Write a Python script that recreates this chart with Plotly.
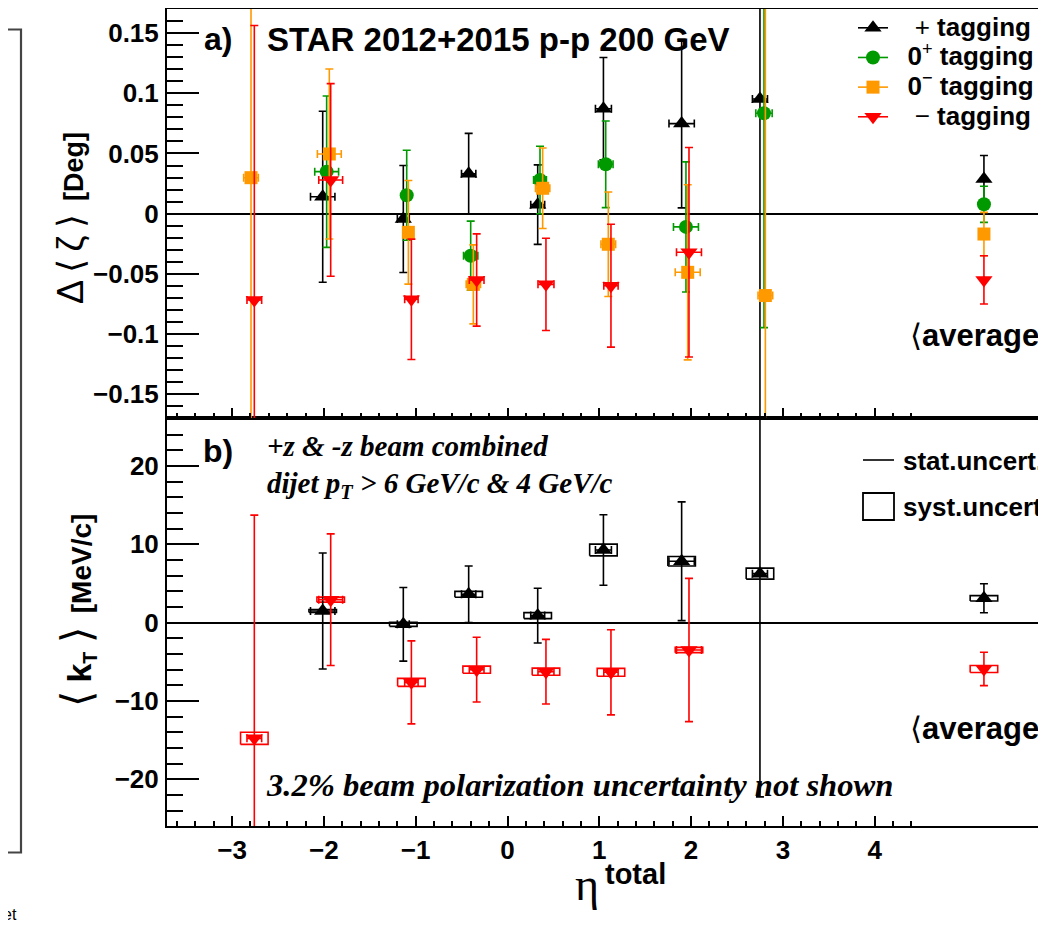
import plotly.graph_objects as go

# ---------------- data ----------------
eta_ticks = [-3, -2, -1, 0, 1, 2, 3, 4]
eta_tick_labels = ["\u22123", "\u22122", "\u22121", "0", "1", "2", "3", "4"]
zeta_ticks = [-0.15, -0.1, -0.05, 0, 0.05, 0.1, 0.15]
zeta_tick_labels = ["\u22120.15", "\u22120.1", "\u22120.05", "0", "0.05", "0.1", "0.15"]
kt_ticks = [-20, -10, 0, 10, 20]
kt_tick_labels = ["\u221220", "\u221210", "0", "10", "20"]

# + tagging (black)
plus_eta = [-2.013, -1.135, -0.423, 0.329, 1.045, 1.897, 2.750, 5.19]
plus_eta_err = [0.133, 0.065, 0.078, 0.076, 0.087, 0.138, 0.082, 0.0]
plus_zeta = [0.0141, -0.0044, 0.0332, 0.0075, 0.0872, 0.0748, 0.0953, 0.0288]
plus_zeta_err = [0.071, 0.0444, 0.0335, 0.033, 0.0425, 0.070, 0.30, 0.0195]
plus_kt = [1.49, -0.21, 3.62, 0.90, 9.28, 7.84, 6.26, 3.11]
plus_kt_stat = [7.41, 4.70, 3.62, 3.50, 4.50, 7.58, 28.5, 1.85]
plus_kt_syst = [0.20, 0.26, 0.38, 0.38, 0.75, 0.60, 0.70, 0.34]

# 0+ tagging (green)
zp_eta = [-1.970, -1.098, -0.401, 0.354, 1.070, 1.944, 2.794, 5.19]
zp_eta_err = [0.13, 0.04, 0.078, 0.07, 0.08, 0.136, 0.089, 0.0]
zp_zeta = [0.0349, 0.0153, -0.0349, 0.0280, 0.0410, -0.0110, 0.0834, 0.0078]
zp_zeta_err = [0.0629, 0.0374, 0.0287, 0.0280, 0.0360, 0.0540, 0.178, 0.015]

# 0- tagging (orange)
zm_eta = [-2.794, -1.941, -1.080, -0.372, 0.383, 1.098, 1.963, 2.809, 5.19]
zm_eta_err = [0.08, 0.13, 0.05, 0.078, 0.078, 0.08, 0.136, 0.08, 0.0]
zm_zeta = [0.0299, 0.0496, -0.0155, -0.0587, 0.0211, -0.0254, -0.0487, -0.0680, -0.0169]
zm_zeta_err = [0.25, 0.0706, 0.0430, 0.0328, 0.0334, 0.0434, 0.0727, 0.27, 0.018]

# - tagging (red)
minus_eta = [-2.758, -1.926, -1.047, -0.336, 0.419, 1.127, 1.977, 5.19]
minus_eta_err = [0.08, 0.13, 0.073, 0.08, 0.087, 0.078, 0.136, 0.0]
minus_zeta = [-0.0717, 0.0280, -0.0711, -0.0551, -0.0587, -0.0598, -0.0320, -0.0550]
minus_zeta_err = [0.228, 0.080, 0.050, 0.0383, 0.0383, 0.051, 0.087, 0.020]
minus_kt = [-14.77, 2.94, -7.62, -6.00, -6.26, -6.34, -3.49, -5.91]
minus_kt_stat = [28.5, 8.40, 5.30, 4.13, 4.13, 5.43, 9.15, 2.13]
minus_kt_syst = [0.77, 0.32, 0.51, 0.45, 0.45, 0.51, 0.34, 0.45]

syst_half_width = 0.15

BLACK = "#000000"
GREEN = "#009a00"
ORANGE = "#ff9900"
RED = "#ff0000"

# ---------------- layout geometry (page pixels) ----------------
PAGE_W, PAGE_H = 1046, 925
OFF = 8                      # default body margin of the html page
L, R, T, B = 167, 1046, 9, 826
DIV = 418
FIG_W, FIG_H = PAGE_W - OFF, PAGE_H - OFF


def px(xp):
    return (xp - L) / (R - L)


def py(yp):
    return (B - yp) / (B - T)


split = (B - DIV) / (B - T)

x_lo = (L - 507.5) / 91.8
x_hi = (R - 507.5) / 91.8

fig = go.Figure()


def points(xs, ys, yerr, xerr, color, symbol, xa, ya, size=14):
    fig.add_trace(go.Scatter(
        x=xs, y=ys, mode="markers", xaxis=xa, yaxis=ya, showlegend=False,
        marker=dict(color=color, symbol=symbol, size=size, line=dict(width=0)),
        error_y=dict(type="data", array=yerr, visible=True, color=color, thickness=1.6, width=4),
        error_x=dict(type="data", array=xerr, visible=True, color=color, thickness=1.6, width=4),
    ))


def boxes(xs, ys, hs, color, xa, ya):
    bx, by = [], []
    for xv, yv, hv in zip(xs, ys, hs):
        x0, x1 = xv - syst_half_width, xv + syst_half_width
        y0, y1 = yv - hv, yv + hv
        bx += [x0, x1, x1, x0, x0, None]
        by += [y0, y0, y1, y1, y0, None]
    fig.add_trace(go.Scatter(x=bx, y=by, mode="lines", xaxis=xa, yaxis=ya, showlegend=False,
                             line=dict(color=color, width=1.6), hoverinfo="skip"))


TRI = 15
# top panel (x2/y2)
points(plus_eta, plus_zeta, plus_zeta_err, plus_eta_err, BLACK, "triangle-up", "x2", "y2", TRI)
points(zp_eta, zp_zeta, zp_zeta_err, zp_eta_err, GREEN, "circle", "x2", "y2", 14)
points(zm_eta, zm_zeta, zm_zeta_err, zm_eta_err, ORANGE, "square", "x2", "y2", 13)
points(minus_eta, minus_zeta, minus_zeta_err, minus_eta_err, RED, "triangle-down", "x2", "y2", TRI)

# bottom panel (x/y)
boxes(plus_eta, plus_kt, plus_kt_syst, BLACK, "x", "y")
boxes(minus_eta, minus_kt, minus_kt_syst, RED, "x", "y")
points(plus_eta, plus_kt, plus_kt_stat, plus_eta_err, BLACK, "triangle-up", "x", "y", TRI)
points(minus_eta, minus_kt, minus_kt_stat, minus_eta_err, RED, "triangle-down", "x", "y", TRI)

# legend entries
S = "<span style='font-size:26px'>"
legend_entries = [
    (S + "\u00a0\u00a0\u00a0+ <b>tagging</b></span>", BLACK, "triangle-up", TRI),
    (S + "\u00a0\u00a0<b>0</b><sup>+</sup> <b>tagging</b></span>", GREEN, "circle", 14),
    (S + "\u00a0\u00a0<b>0</b><sup>\u2212</sup> <b>tagging</b></span>", ORANGE, "square", 13),
    (S + "\u00a0\u00a0\u00a0\u2212 <b>tagging</b></span>", RED, "triangle-down", TRI),
]
for name, color, symbol, size in legend_entries:
    fig.add_trace(go.Scatter(x=[None], y=[None], mode="lines+markers", name=name,
                             xaxis="x2", yaxis="y2",
                             marker=dict(color=color, symbol=symbol, size=size),
                             line=dict(color=color, width=1.6)))

minor_x = [round(-3.6 + 0.2 * i, 1) for i in range(41)]
minor_x = [v for v in minor_x if abs(v - round(v)) > 1e-6]
minor_zeta = [round(-0.16 + 0.01 * i, 2) for i in range(33)]
minor_zeta = [v for v in minor_zeta if abs(v / 0.05 - round(v / 0.05)) > 1e-6]
minor_kt = [-24 + 2 * i for i in range(25)]
minor_kt = [v for v in minor_kt if v % 10 != 0]

tickfont = dict(family="Liberation Sans", size=26, color="black", weight="bold")
xcommon = dict(range=[x_lo, x_hi], tickmode="array", ticks="inside", ticklen=10, tickwidth=1.5,
               tickcolor="black", showline=True, linewidth=2, linecolor="black", mirror=True,
               showgrid=False, zeroline=False,
               minor=dict(tickmode="array", tickvals=minor_x, ticks="inside", ticklen=5,
                          tickwidth=1.5, tickcolor="black", showgrid=False))
ycommon = dict(tickmode="array", ticks="inside", ticklen=32, tickwidth=1.5, tickcolor="black",
               showline=True, linewidth=2, linecolor="black", mirror=False, showgrid=False,
               zeroline=True, zerolinecolor="black", zerolinewidth=1.5,
               tickfont=tickfont, ticklabelstandoff=1)

fig.update_layout(
    width=FIG_W, height=FIG_H,
    margin=dict(l=L - OFF, r=0, t=T - OFF, b=FIG_H - (B - OFF), pad=0),
    paper_bgcolor="white", plot_bgcolor="white",
    xaxis=dict(domain=[0, 1], anchor="y", tickvals=eta_ticks, ticktext=eta_tick_labels,
               tickfont=dict(family="Liberation Sans", size=26, color="black", weight="bold"),
               ticklabelstandoff=0, **xcommon),
    xaxis2=dict(domain=[0, 1], anchor="y2", matches="x", showticklabels=False,
                tickvals=eta_ticks, **xcommon),
    yaxis=dict(domain=[0, split], anchor="x", range=[-25.96, 26.13], tickvals=kt_ticks,
               ticktext=kt_tick_labels,
               minor=dict(tickmode="array", tickvals=minor_kt, ticks="inside", ticklen=16,
                          tickwidth=1.5, tickcolor="black", showgrid=False),
               **ycommon),
    yaxis2=dict(domain=[split, 1], anchor="x2", range=[-0.1697, 0.1700], tickvals=zeta_ticks,
                ticktext=zeta_tick_labels,
                minor=dict(tickmode="array", tickvals=minor_zeta, ticks="inside", ticklen=16,
                           tickwidth=1.5, tickcolor="black", showgrid=False),
                **ycommon),
    showlegend=True,
    legend=dict(x=px(853), y=py(8), xanchor="left", yanchor="top",
                font=dict(family="Liberation Sans", size=20.5, color="black"),
                bgcolor="rgba(0,0,0,0)", borderwidth=0, tracegroupgap=0, itemwidth=30),
)

bold_sans = dict(family="Liberation Sans", color="black", weight="bold")
plain_sans = dict(family="Liberation Sans", color="black")
serif_bi = dict(family="Liberation Serif", color="black", weight="bold", style="italic")


def note(text, xp, yp, font, size, xanchor="left", yanchor="middle", angle=0, color="black"):
    f = dict(font)
    f["size"] = size
    f["color"] = color
    fig.add_annotation(text=text, x=px(xp), y=py(yp), xref="paper", yref="paper",
                       xanchor=xanchor, yanchor=yanchor, showarrow=False, font=f,
                       textangle=angle)


note("a)", 218, 39, bold_sans, 32, xanchor="center")
note("STAR 2012+2015 p-p 200 GeV", 265, 39, bold_sans, 33)
note("\u27e8<b>average</b>\u27e9", 908, 336, plain_sans, 31)
note("b)", 218, 451, bold_sans, 32, xanchor="center")
note("+z & -z beam combined", 265, 446, serif_bi, 29)
note("dijet p<sub>T</sub> > 6 GeV/c & 4 GeV/c", 265, 485, serif_bi, 29)
note("stat.uncert.", 901, 461, bold_sans, 26)
note("syst.uncert.", 901, 507, bold_sans, 26)
note("\u27e8<b>average</b>\u27e9", 908, 728, plain_sans, 31)
note("3.2% beam polarization uncertainty not shown", 264, 785, serif_bi, 32.6)
note("<span style='font-size:36px'>\u0394\u2009\u27e8\u2009\u03b6\u2009\u27e9</span>"
     "\u2002<b>[Deg]</b>", 70, 218, plain_sans, 27, xanchor="center", angle=-90)
note("<span style='font-size:42px'>\u27e8\u2009</span><span style='font-size:34px'><b>k</b></span>"
     "<sub><b>T</b></sub>"
     "<span style='font-size:42px'>\u2009\u27e9</span>\u2002<b>[MeV/c]</b>",
     77, 611, plain_sans, 28, xanchor="center", angle=-90)
note("\u03b7", 587, 884, dict(family="Liberation Serif", color="black"), 46, xanchor="center")
note("total", 603, 874, bold_sans, 29)
note("et", 19, 914, dict(family="Liberation Sans", color="#555555"), 16, xanchor="right")

# decorations: stat/syst legend symbols and the neighbouring-panel frame remnant
fig.add_shape(type="line", xref="paper", yref="paper", x0=px(863), x1=px(894),
              y0=py(460), y1=py(460), line=dict(color="black", width=1.6))
fig.add_shape(type="rect", xref="paper", yref="paper", x0=px(863), x1=px(894),
              y0=py(520), y1=py(493), line=dict(color="black", width=1.8))
fig.add_shape(type="rect", xref="paper", yref="paper", x0=px(-20), x1=px(21),
              y0=py(852.5), y1=py(29.5), line=dict(color="#444444", width=2.2))

fig.write_html("out.html")
